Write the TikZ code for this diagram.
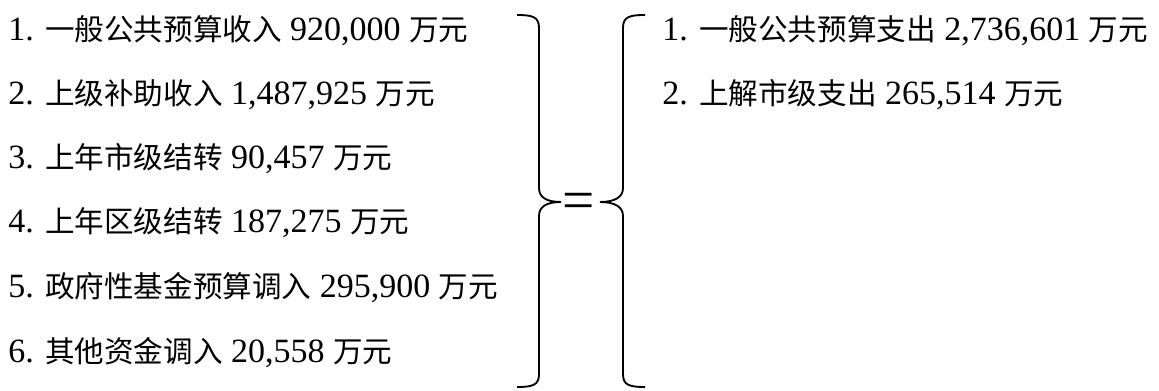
\documentclass[tikz,border=0pt]{standalone}
\usepackage{fontspec}
\setmainfont{Liberation Serif}
\newfontfamily\cjk{Noto Sans CJK SC}[Scale=0.87]
\newcommand{\zh}[1]{{\cjk #1}}
\tikzset{
  item/.style={anchor=base west,inner sep=0pt,font=\fontsize{25.5}{30}\selectfont},
  bracket/.style={line width=1.4pt}
}

\begin{document}
\begin{tikzpicture}[x=0.75pt,y=0.75pt,yscale=-1,xscale=1]
\useasboundingbox (0,0) rectangle (1159,391);

% Text Node
\node[item] (l1) at (8,41) {1. \zh{一般公共预算收入} 920,000 \zh{万元}};
% Text Node
\node[item] (l2) at (8,105) {2. \zh{上级补助收入} 1,487,925 \zh{万元}};
% Text Node
\node[item] (l3) at (8,169) {3. \zh{上年市级结转} 90,457 \zh{万元}};
% Text Node
\node[item] (l4) at (8,233) {4. \zh{上年区级结转} 187,275 \zh{万元}};
% Text Node
\node[item] (l5) at (8,298) {5. \zh{政府性基金预算调入} 295,900 \zh{万元}};
% Text Node
\node[item] (l6) at (8,362) {6. \zh{其他资金调入} 20,558 \zh{万元}};

% Text Node
\node[item] (r1) at (662,41) {1. \zh{一般公共预算支出} 2,736,601 \zh{万元}};
% Text Node
\node[item] (r2) at (662,105) {2. \zh{上解市级支出} 265,514 \zh{万元}};

%Curly Braces
\coordinate (bt1) at (517,15);
\coordinate (bb1) at (517,387);
\coordinate (tip1) at (561,202);
\coordinate (bt2) at (645,15);
\coordinate (bb2) at (645,387);
\coordinate (tip2) at (600,202);
\draw[bracket] (bt1) .. controls (533,15) and (539,17) .. (539,28) -- (539,188) .. controls (539,197) and (546,202) .. (tip1) .. controls (546,202) and (539,207) .. (539,216) -- (539,374) .. controls (539,385) and (533,387) .. (bb1);
\draw[bracket] (bt2) .. controls (629,15) and (623,17) .. (623,28) -- (623,188) .. controls (623,197) and (615,202) .. (tip2) .. controls (615,202) and (623,207) .. (623,216) -- (623,374) .. controls (623,385) and (629,387) .. (bb2);

% Text Node
\node[anchor=base,inner sep=0pt,font=\fontsize{43}{43}\selectfont] (eq) at (579,220) {=};

\end{tikzpicture}
\end{document}
